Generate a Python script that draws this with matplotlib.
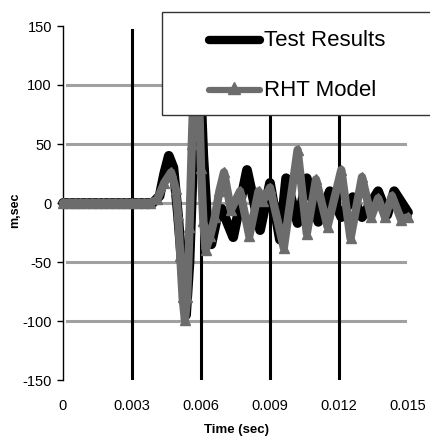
import matplotlib
matplotlib.use("Agg")
import matplotlib.pyplot as plt
from matplotlib.lines import Line2D
from matplotlib.patches import Rectangle

plt.rcParams['font.family'] = ['Liberation Sans', 'DejaVu Sans']

# ---- data ----
t_test = [0.0, 0.0005, 0.001, 0.0015, 0.002, 0.0025, 0.003, 0.0035, 0.0039,
          0.0042, 0.0044, 0.0046, 0.0048, 0.0050, 0.0052, 0.00535, 0.0055,
          0.0057, 0.0059, 0.0061, 0.0063, 0.00645, 0.0067, 0.0069, 0.0074,
          0.0080, 0.00857, 0.0090, 0.00943, 0.0097, 0.0102, 0.0106, 0.0111,
          0.0116, 0.0121, 0.0126, 0.0130, 0.0137, 0.0141, 0.0144, 0.0150]
v_test = [0, 0, 0, 0, 0, 0, 0, 0, 0,
          6, 25, 40, 30, -10, -60, -95, -50,
          60, 140, 40, -25, -35, -12, -5, -29,
          28, -23, 17, -31, 21, -17, 21, -16,
          10, -12, 5, -12, 10, -10, 10, -8]

t_rht = [0.0, 0.00025, 0.0005, 0.00075, 0.001, 0.00125, 0.0015, 0.00175,
         0.002, 0.00225, 0.0025, 0.00275, 0.003, 0.00325, 0.0035, 0.0038,
         0.0041, 0.0044, 0.0047, 0.0049, 0.0050, 0.0051, 0.0052, 0.0053,
         0.0054, 0.0055, 0.0056, 0.0057, 0.0058, 0.0059, 0.0060, 0.0061,
         0.0062, 0.0064, 0.0066, 0.0068, 0.0070, 0.0073, 0.0077, 0.0081,
         0.0085, 0.0087, 0.0090, 0.0096, 0.0102, 0.0106, 0.0110, 0.0115,
         0.0121, 0.0125, 0.0130, 0.0134, 0.0137, 0.0140, 0.0143, 0.0147,
         0.0150]
v_rht = [0, 0, 0, 0, 0, 0, 0, 0,
         0, 0, 0, 0, 0, 0, 0, 0,
         3, 17, 26, 12, -10, -45, -80, -99,
         -80, -20, 50, 110, 130, 100, 30, -15,
         -40, -28, -12, 10, 26, -6, 10, -28,
         10, 2, 13, -38, 45, -26, 20, -20,
         28, -30, 22, -12, 4, -12, 6, -14,
         -12]

x_ticks = [0, 0.003, 0.006, 0.009, 0.012, 0.015]
x_labels = ['0', '0.003', '0.006', '0.009', '0.012', '0.015']
y_ticks = [-150, -100, -50, 0, 50, 100, 150]
grid_y = [-100, -50, 0, 50, 100]
vlines_x = [0.003, 0.006, 0.009, 0.012]
series_names = ['Test Results', 'RHT Model']

GREY = '#6c6c6c'

fig = plt.figure(figsize=(4.31, 4.42), dpi=100)
ax = fig.add_axes([63/431, 1-380/442, 345/431, 354/442])
ax.set_xlim(0, 0.015)
ax.set_ylim(-150, 150)

for gy in grid_y:
    ax.axhline(gy, xmin=0.012, xmax=0.99, color='#a0a0a0', lw=2.2, zorder=1)
for vx in vlines_x:
    ax.axvline(vx, ymin=0.006, ymax=0.989, color='black', lw=2.2, zorder=1.5)

ax.plot(t_test, v_test, color='black', lw=7, solid_capstyle='round',
        solid_joinstyle='round', zorder=3, clip_on=False)
ax.plot(t_rht, v_rht, color=GREY, lw=6, marker='^', markersize=6.5,
        markeredgecolor=GREY, markerfacecolor=GREY, solid_capstyle='round',
        solid_joinstyle='round', zorder=4, clip_on=False)

for s in ['top', 'right', 'bottom']:
    ax.spines[s].set_visible(False)
ax.spines['left'].set_linewidth(1)
ax.set_yticks(y_ticks)
ax.set_yticklabels([str(v) for v in y_ticks])
ax.set_xticks(x_ticks)
ax.set_xticklabels(x_labels)
ax.tick_params(axis='y', direction='out', length=4, width=1, pad=4,
               labelsize=10.5, colors='black')
ax.tick_params(axis='x', length=0, pad=14, labelsize=10.5)

fig.text(15/431, 1-210/442, 'm,sec', rotation=90, fontsize=9,
         fontweight='bold', ha='center', va='center')
fig.text(236.5/431, 1-430/442, 'Time (sec)', fontsize=9.5,
         fontweight='bold', ha='center', va='center')

# legend box drawn in figure coordinates
rect = Rectangle((162/431, 1-115/442), 300/431, 103/442,
                 transform=fig.transFigure, facecolor='white',
                 edgecolor='#333333', lw=1, zorder=10)
fig.patches.append(rect)
l1 = Line2D([209/431, 260/431], [1-40/442, 1-40/442],
            transform=fig.transFigure, color='black', lw=6,
            solid_capstyle='round', zorder=11)
l2 = Line2D([209/431, 260/431], [1-90/442, 1-90/442],
            transform=fig.transFigure, color=GREY, lw=4.5,
            solid_capstyle='round', zorder=11)
l2m = Line2D([234.5/431], [1-88/442], transform=fig.transFigure,
             color=GREY, marker='^', markersize=8, lw=0, zorder=12)
fig.lines.extend([l1, l2, l2m])
fig.text(264/431, 1-40/442, series_names[0], fontsize=16, ha='left',
         va='center', zorder=12)
fig.text(264/431, 1-90/442, series_names[1], fontsize=16, ha='left',
         va='center', zorder=12)

fig.savefig('out.png', dpi=100)
